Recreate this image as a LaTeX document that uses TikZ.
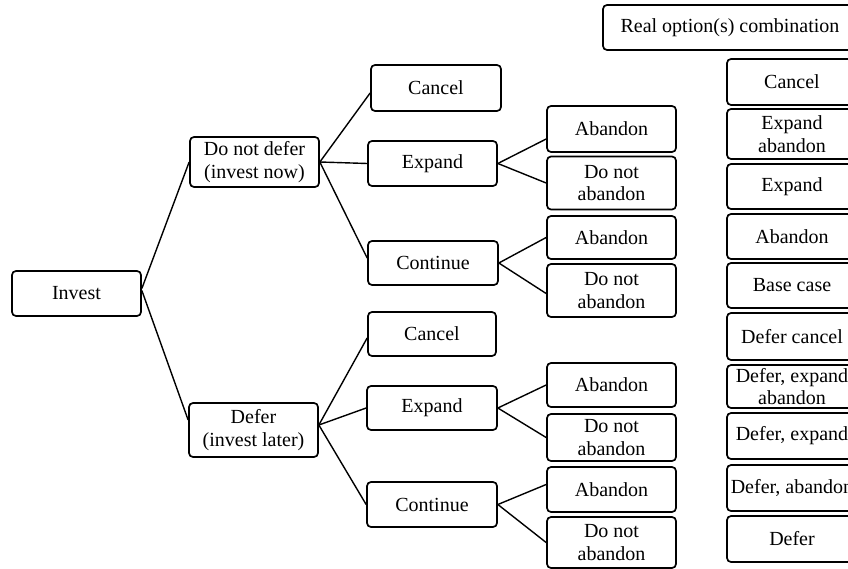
\documentclass[tikz,border=0pt]{standalone}
\usepackage{fontspec}
\setmainfont{Liberation Serif}
\begin{document}
\begin{tikzpicture}[x=1pt,y=-1pt,
  box/.style={draw, line width=1.7pt, rounded corners=4pt, inner sep=0pt, align=center,
    font=\fontsize{20}{22.5}\selectfont},
  conn/.style={line width=1.4pt}]
\useasboundingbox (0,0) rectangle (848,569);
% level 0-1
\node[box, minimum width=129, minimum height=45] (invest) at (76.5,293.5) {Invest};
\node[box, minimum width=129, minimum height=50] (dnd) at (254.5,162) {Do not defer\\(invest now)};
\node[box, minimum width=129, minimum height=54] (defer) at (253.5,430) {Defer\\(invest later)};
% level 2
\node[box, minimum width=130, minimum height=46] (cancelA) at (436,88) {Cancel};
\node[box, minimum width=129, minimum height=45] (expandA) at (432.5,163.5) {Expand};
\node[box, minimum width=130, minimum height=44] (contA) at (433,263) {Continue};
\node[box, minimum width=128, minimum height=44] (cancelB) at (432,334) {Cancel};
\node[box, minimum width=130, minimum height=44] (expandB) at (432,408) {Expand};
\node[box, minimum width=130, minimum height=45] (contB) at (432,504.5) {Continue};
% leaves
\node[box, minimum width=129, minimum height=46] (abA) at (611.5,129) {Abandon};
\node[box, minimum width=129, minimum height=53] (dnaA) at (611.5,183) {Do not\\abandon};
\node[box, minimum width=129, minimum height=43] (abB) at (611.5,237.5) {Abandon};
\node[box, minimum width=129, minimum height=53] (dnaB) at (611.5,290.5) {Do not\\abandon};
\node[box, minimum width=129, minimum height=44] (abC) at (611.5,385) {Abandon};
\node[box, minimum width=129, minimum height=47] (dnaC) at (611.5,437.5) {Do not\\abandon};
\node[box, minimum width=129, minimum height=45] (abD) at (611.5,489.5) {Abandon};
\node[box, minimum width=129, minimum height=51] (dnaD) at (611.5,542.5) {Do not\\abandon};
% right column
\node[box, minimum width=254, minimum height=45] (title) at (730,27.5) {Real option(s) combination};
\node[box, minimum width=130, minimum height=46] (r1) at (792,82) {Cancel};
\node[box, minimum width=130, minimum height=50] (r2) at (792,134) {Expand\\abandon};
\node[box, minimum width=130, minimum height=45] (r3) at (792,186.5) {Expand};
\node[box, minimum width=130, minimum height=45] (r4) at (792,236.5) {Abandon};
\node[box, minimum width=130, minimum height=45] (r5) at (792,285.5) {Base case};
\node[box, minimum width=130, minimum height=47] (r6) at (792,336.5) {Defer cancel};
\node[box, minimum width=130, minimum height=43] (r7) at (792,386.5) {Defer, expand\\abandon};
\node[box, minimum width=130, minimum height=46] (r8) at (792,436) {Defer, expand};
\node[box, minimum width=130, minimum height=46] (r9) at (792,488) {Defer, abandon};
\node[box, minimum width=130, minimum height=46] (r10) at (792,539) {Defer};
% connectors
\draw[conn] ([yshift=5pt]invest.east) -- (dnd.west);
\draw[conn] ([yshift=3pt]invest.east) -- ([yshift=10pt]defer.west);
\draw[conn] (dnd.east) -- ([yshift=-5pt]cancelA.west);
\draw[conn] (dnd.east) -- (expandA.west);
\draw[conn] (dnd.east) -- ([yshift=5pt]contA.west);
\draw[conn] ([yshift=5pt]defer.east) -- ([yshift=-4pt]cancelB.west);
\draw[conn] ([yshift=5pt]defer.east) -- (expandB.west);
\draw[conn] ([yshift=5pt]defer.east) -- (contB.west);
\draw[conn] (expandA.east) -- ([yshift=-10pt]abA.west);
\draw[conn] (expandA.east) -- (dnaA.west);
\draw[conn] (contA.east) -- (abB.west);
\draw[conn] (contA.east) -- ([yshift=-3pt]dnaB.west);
\draw[conn] (expandB.east) -- (abC.west);
\draw[conn] (expandB.east) -- (dnaC.west);
\draw[conn] (contB.east) -- ([yshift=5pt]abD.west);
\draw[conn] (contB.east) -- (dnaD.west);
\end{tikzpicture}
\end{document}
